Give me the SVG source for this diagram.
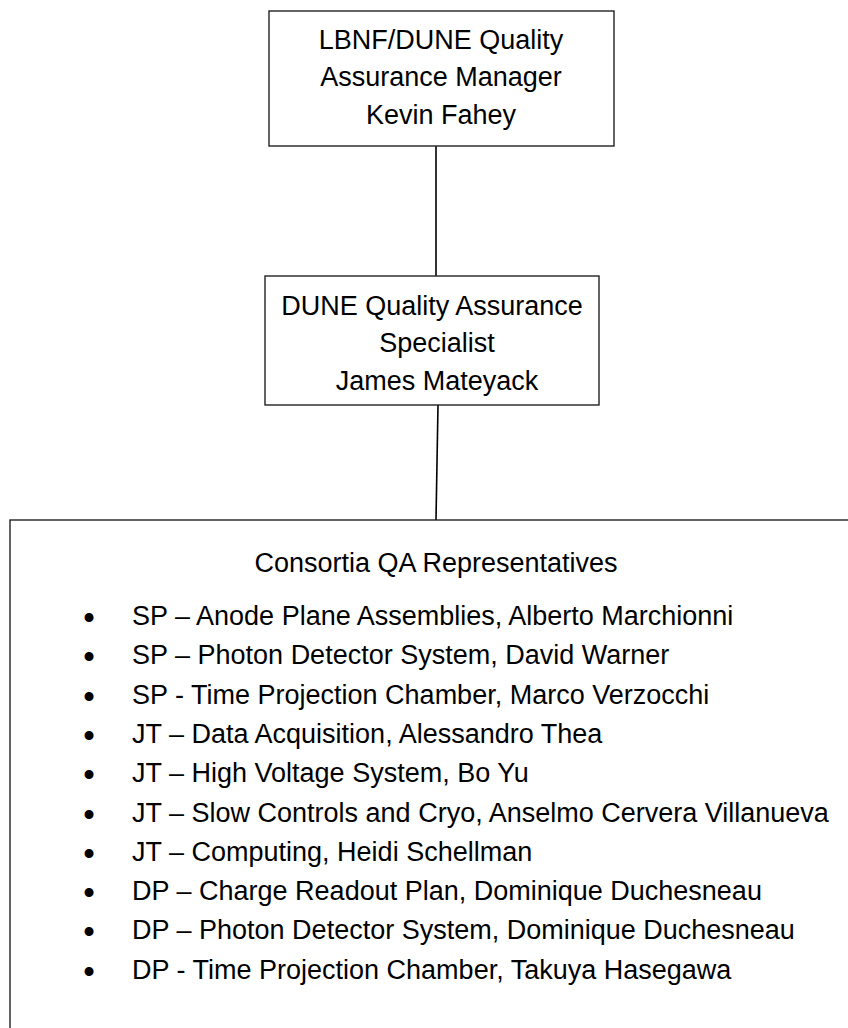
<svg xmlns="http://www.w3.org/2000/svg" width="848" height="1028" viewBox="0 0 848 1028">
<style>
.box{fill:#fff;stroke:#222;stroke-width:1.4}
.t{font-family:"Liberation Sans",Arial,sans-serif;font-size:27px;fill:#000}
.c{text-anchor:middle}
.b{text-anchor:middle;font-size:33px}
.ln{stroke:#000;stroke-width:1.6;fill:none}
</style>
<rect width="848" height="1028" fill="#fff"/>
<g id="connectors">
<line class="ln" x1="436" y1="146" x2="436" y2="276" stroke-width="2"/>
<line class="ln" x1="438" y1="405" x2="436" y2="520"/>
</g>
<g id="manager">
<rect class="box" x="269" y="11" width="345" height="135"/>
<text class="t c" x="441" y="49">LBNF/DUNE Quality</text>
<text class="t c" x="441" y="86">Assurance Manager</text>
<text class="t c" x="441" y="124">Kevin Fahey</text>
</g>
<g id="specialist">
<rect class="box" x="265" y="276" width="334" height="129"/>
<text class="t c" x="432" y="315">DUNE Quality Assurance</text>
<text class="t c" x="437" y="352">Specialist</text>
<text class="t c" x="437" y="390">James Mateyack</text>
</g>
<g id="consortia">
<rect class="box" x="10" y="520" width="900" height="600"/>
<text class="t c" x="436" y="572">Consortia QA Representatives</text>
<g class="t">
<text class="b" x="89" y="629">•</text><text x="132" y="625">SP – Anode Plane Assemblies, Alberto Marchionni</text>
<text class="b" x="89" y="668">•</text><text x="132" y="664">SP – Photon Detector System, David Warner</text>
<text class="b" x="89" y="708">•</text><text x="132" y="704">SP - Time Projection Chamber, Marco Verzocchi</text>
<text class="b" x="89" y="747">•</text><text x="132" y="743">JT – Data Acquisition, Alessandro Thea</text>
<text class="b" x="89" y="786">•</text><text x="132" y="782">JT – High Voltage System, Bo Yu</text>
<text class="b" x="89" y="826">•</text><text x="132" y="822">JT – Slow Controls and Cryo, Anselmo Cervera Villanueva</text>
<text class="b" x="89" y="865">•</text><text x="132" y="861">JT – Computing, Heidi Schellman</text>
<text class="b" x="89" y="904">•</text><text x="132" y="900">DP – Charge Readout Plan, Dominique Duchesneau</text>
<text class="b" x="89" y="943">•</text><text x="132" y="939">DP – Photon Detector System, Dominique Duchesneau</text>
<text class="b" x="89" y="983">•</text><text x="132" y="979">DP - Time Projection Chamber, Takuya Hasegawa</text>
</g>
</g>
</svg>
